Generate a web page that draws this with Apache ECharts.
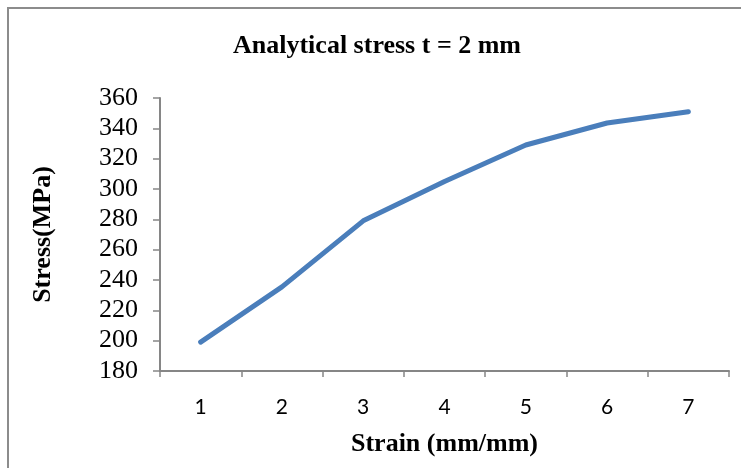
<!DOCTYPE html>
<html><head><meta charset="utf-8">
<script src="https://cdn.jsdelivr.net/npm/echarts@6/dist/echarts.min.js"></script>
<style>html,body{margin:0;padding:0;background:#fff}#c{width:741px;height:468px}</style>
</head><body><div id="c"></div>
<script>
var categories = ['1','2','3','4','5','6','7'];
var stress = [199, 235.5, 279, 305, 329, 343.5, 351];
var yMin = 180, yMax = 360, yStep = 20;

var chart = echarts.init(document.getElementById('c'));
chart.setOption({
  animation: false,
  backgroundColor: '#fff',
  title: {
    text: 'Analytical stress t = 2 mm',
    left: 228, top: 28,
    textStyle: {fontFamily: 'Liberation Serif', fontWeight: 'bold', fontSize: 26, color: '#000'}
  },
  graphic: [{
    type: 'polyline', silent: true,
    shape: {points: [[8, 480], [8, 8], [760, 8]]},
    style: {stroke: '#8c8c8c', lineWidth: 2, fill: null}
  }],
  grid: {left: 160, right: 12, top: 98, bottom: 97, outerBoundsMode: 'none', containLabel: false},
  xAxis: {
    type: 'category', data: categories, boundaryGap: true,
    name: 'Strain (mm/mm)', nameLocation: 'middle', nameGap: 60,
    nameTextStyle: {fontFamily: 'Liberation Serif', fontWeight: 'bold', fontSize: 26, color: '#000'},
    axisLine: {lineStyle: {color: '#868686', width: 2}},
    axisTick: {show: true, length: 6, alignWithLabel: false, lineStyle: {color: '#868686', width: 1.5}},
    axisLabel: {fontFamily: 'Lato', fontSize: 21, color: '#000', margin: 26},
    splitLine: {show: false}
  },
  yAxis: {
    type: 'value', min: yMin, max: yMax, interval: yStep,
    name: 'Stress(MPa)', nameLocation: 'middle', nameGap: 104, nameRotate: 90,
    nameTextStyle: {fontFamily: 'Liberation Serif', fontWeight: 'bold', fontSize: 26, color: '#000'},
    axisLine: {show: true, lineStyle: {color: '#868686', width: 2}},
    axisTick: {show: true, length: 7, lineStyle: {color: '#868686', width: 1.5}},
    axisLabel: {fontFamily: 'Liberation Serif', fontSize: 26, color: '#000', margin: 22},
    splitLine: {show: false}
  },
  series: [{
    type: 'line', data: stress, symbol: 'none',
    lineStyle: {color: '#4a7ebb', width: 5, cap: 'round', join: 'round'}
  }]
});
</script></body></html>
